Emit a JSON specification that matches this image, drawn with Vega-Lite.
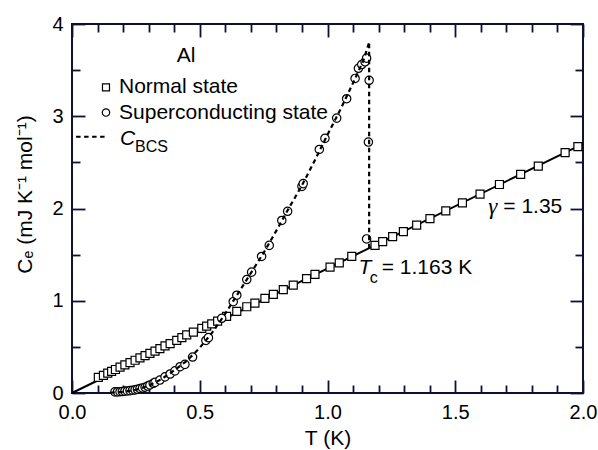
{
  "$schema": "https://vega.github.io/schema/vega-lite/v6.json",
  "width": 511,
  "height": 369,
  "autosize": {"type": "none"},
  "padding": {"left": 72, "top": 24, "right": 15, "bottom": 57},
  "background": "white",
  "config": {
    "view": {"stroke": "#101030", "strokeWidth": 2},
    "axis": {
      "labelFont": "Liberation Sans", "labelFontSize": 20, "labelColor": "black",
      "titleFont": "Liberation Sans", "titleFontSize": 21, "titleFontWeight": "normal", "titleColor": "black",
      "domain": false, "tickColor": "#101030", "tickWidth": 1.8,
      "grid": false, "labelFlush": false, "labelOverlap": false
    }
  },
  "datasets": {
    "normalLine": [{"T": 0, "C": 0}, {"T": 2, "C": 2.7}],
    "normal": [
      {"T": 0.103, "C": 0.17}, {"T": 0.123, "C": 0.19}, {"T": 0.14, "C": 0.215}, {"T": 0.155, "C": 0.235},
      {"T": 0.17, "C": 0.255}, {"T": 0.188, "C": 0.28}, {"T": 0.207, "C": 0.305}, {"T": 0.227, "C": 0.33},
      {"T": 0.247, "C": 0.355}, {"T": 0.266, "C": 0.38}, {"T": 0.286, "C": 0.405}, {"T": 0.305, "C": 0.43},
      {"T": 0.325, "C": 0.455}, {"T": 0.344, "C": 0.48}, {"T": 0.364, "C": 0.51}, {"T": 0.384, "C": 0.535},
      {"T": 0.41, "C": 0.57}, {"T": 0.43, "C": 0.6}, {"T": 0.449, "C": 0.63}, {"T": 0.475, "C": 0.66},
      {"T": 0.508, "C": 0.7}, {"T": 0.527, "C": 0.725}, {"T": 0.547, "C": 0.75}, {"T": 0.57, "C": 0.78},
      {"T": 0.605, "C": 0.83}, {"T": 0.645, "C": 0.885}, {"T": 0.684, "C": 0.935}, {"T": 0.716, "C": 0.975},
      {"T": 0.755, "C": 1.025}, {"T": 0.788, "C": 1.07}, {"T": 0.827, "C": 1.12}, {"T": 0.866, "C": 1.17},
      {"T": 0.918, "C": 1.24}, {"T": 0.951, "C": 1.285}, {"T": 1.01, "C": 1.365}, {"T": 1.046, "C": 1.41},
      {"T": 1.095, "C": 1.48}, {"T": 1.186, "C": 1.6}, {"T": 1.216, "C": 1.64}, {"T": 1.255, "C": 1.695},
      {"T": 1.297, "C": 1.75}, {"T": 1.349, "C": 1.82}, {"T": 1.401, "C": 1.89}, {"T": 1.463, "C": 1.975},
      {"T": 1.528, "C": 2.06}, {"T": 1.597, "C": 2.155}, {"T": 1.673, "C": 2.26}, {"T": 1.756, "C": 2.37},
      {"T": 1.825, "C": 2.46}, {"T": 1.93, "C": 2.605}, {"T": 1.98, "C": 2.67}
    ],
    "superc": [
      {"T": 0.168, "C": 0.012}, {"T": 0.178, "C": 0.012}, {"T": 0.188, "C": 0.014}, {"T": 0.197, "C": 0.016},
      {"T": 0.207, "C": 0.02}, {"T": 0.217, "C": 0.022}, {"T": 0.227, "C": 0.026}, {"T": 0.237, "C": 0.03},
      {"T": 0.247, "C": 0.034}, {"T": 0.256, "C": 0.04}, {"T": 0.266, "C": 0.048}, {"T": 0.276, "C": 0.055},
      {"T": 0.286, "C": 0.063}, {"T": 0.296, "C": 0.075}, {"T": 0.305, "C": 0.087}, {"T": 0.318, "C": 0.105},
      {"T": 0.325, "C": 0.115}, {"T": 0.344, "C": 0.14}, {"T": 0.364, "C": 0.175}, {"T": 0.384, "C": 0.206},
      {"T": 0.403, "C": 0.24}, {"T": 0.423, "C": 0.285}, {"T": 0.442, "C": 0.31}, {"T": 0.472, "C": 0.39},
      {"T": 0.524, "C": 0.57}, {"T": 0.534, "C": 0.6}, {"T": 0.586, "C": 0.81}, {"T": 0.631, "C": 0.99},
      {"T": 0.645, "C": 1.06}, {"T": 0.684, "C": 1.23}, {"T": 0.703, "C": 1.31}, {"T": 0.742, "C": 1.48},
      {"T": 0.772, "C": 1.6}, {"T": 0.821, "C": 1.87}, {"T": 0.844, "C": 1.97}, {"T": 0.9, "C": 2.24},
      {"T": 0.905, "C": 2.27}, {"T": 0.968, "C": 2.64}, {"T": 0.99, "C": 2.76}, {"T": 1.036, "C": 2.98},
      {"T": 1.075, "C": 3.19}, {"T": 1.108, "C": 3.41}, {"T": 1.121, "C": 3.52}, {"T": 1.134, "C": 3.56},
      {"T": 1.147, "C": 3.59}, {"T": 1.153, "C": 3.63}, {"T": 1.163, "C": 3.39}, {"T": 1.16, "C": 2.72},
      {"T": 1.153, "C": 1.67}
    ],
    "bcs": [
      {"g": "curve", "T": 0.15, "C": 0.003}, {"g": "curve", "T": 0.2, "C": 0.012}, {"g": "curve", "T": 0.25, "C": 0.035},
      {"g": "curve", "T": 0.3, "C": 0.08}, {"g": "curve", "T": 0.35, "C": 0.15}, {"g": "curve", "T": 0.4, "C": 0.245},
      {"g": "curve", "T": 0.45, "C": 0.35}, {"g": "curve", "T": 0.5, "C": 0.49}, {"g": "curve", "T": 0.55, "C": 0.66},
      {"g": "curve", "T": 0.6, "C": 0.86}, {"g": "curve", "T": 0.65, "C": 1.08}, {"g": "curve", "T": 0.7, "C": 1.3},
      {"g": "curve", "T": 0.75, "C": 1.52}, {"g": "curve", "T": 0.8, "C": 1.76}, {"g": "curve", "T": 0.85, "C": 2.01},
      {"g": "curve", "T": 0.9, "C": 2.25}, {"g": "curve", "T": 0.95, "C": 2.52}, {"g": "curve", "T": 1.0, "C": 2.8},
      {"g": "curve", "T": 1.05, "C": 3.07}, {"g": "curve", "T": 1.1, "C": 3.36}, {"g": "curve", "T": 1.14, "C": 3.6},
      {"g": "curve", "T": 1.163, "C": 3.8},
      {"g": "jump", "T": 1.163, "C": 3.8}, {"g": "jump", "T": 1.163, "C": 1.57},
      {"g": "legend", "T": 0.016, "C": 2.778}, {"g": "legend", "T": 0.133, "C": 2.778}
    ],
    "legSquare": [{"T": 0.133, "C": 3.314}],
    "legCircle": [{"T": 0.133, "C": 3.04}],
    "sans": [
      {"T": 0.41, "C": 3.65, "t": "Al"},
      {"T": 0.184, "C": 3.317, "t": "Normal state"},
      {"T": 0.184, "C": 3.04, "t": "Superconducting state"},
      {"T": 1.212, "C": 1.355, "t": "= 1.163 K"},
      {"T": 1.688, "C": 2.02, "t": "= 1.35"}
    ],
    "ital": [{"T": 0.188, "C": 2.75, "t": "C"}, {"T": 1.121, "C": 1.355, "t": "T"}],
    "subs": [{"T": 0.2466, "C": 2.67, "t": "BCS"}, {"T": 1.165, "C": 1.247, "t": "c"}],
    "gam": [{"T": 1.629, "C": 2.02, "t": "γ"}]
  },
  "resolve": {"axis": {"x": "independent", "y": "independent"}},
  "layer": [
    {
      "data": {"name": "normalLine"},
      "mark": {"type": "line", "color": "black", "strokeWidth": 2},
      "encoding": {
        "x": {"field": "T", "type": "quantitative", "scale": {"domain": [0, 2], "nice": false, "zero": false},
          "axis": {"orient": "bottom", "title": "T (K)", "ticks": false,
            "values": [0, 0.5, 1.0, 1.5, 2.0], "labelPadding": 9, "format": ".1f",
            "titleBaseline": "middle", "titleY": 45}},
        "y": {"field": "C", "type": "quantitative", "scale": {"domain": [0, 4], "nice": false, "zero": false},
          "axis": {"orient": "left", "title": "Cₑ (mJ K⁻¹ mol⁻¹)", "ticks": false,
            "values": [0, 1, 2, 3, 4], "format": "d", "labelPadding": 9,
            "titleAngle": -90, "titleAlign": "center", "titleBaseline": "middle", "titleX": -47, "titleY": 170}}
      }
    },
    {
      "data": {"name": "normal"},
      "mark": {"type": "point", "shape": "square", "filled": true, "fill": "white", "stroke": "black", "strokeWidth": 1.2, "size": 64, "opacity": 1},
      "encoding": {
        "x": {"field": "T", "type": "quantitative",
          "axis": {"orient": "bottom", "title": null, "labels": false, "tickSize": -13,
            "values": [0, 0.5, 1.0, 1.5, 2.0]}},
        "y": {"field": "C", "type": "quantitative",
          "axis": {"orient": "left", "title": null, "labels": false, "tickSize": -13,
            "values": [0, 1, 2, 3, 4]}}
      }
    },
    {
      "data": {"name": "superc"},
      "mark": {"type": "point", "shape": "circle", "filled": true, "fill": "white", "stroke": "black", "strokeWidth": 1.2, "size": 70, "opacity": 1},
      "encoding": {
        "x": {"field": "T", "type": "quantitative",
          "axis": {"orient": "bottom", "title": null, "labels": false, "tickSize": -8,
            "values": [0.1, 0.2, 0.3, 0.4, 0.6, 0.7, 0.8, 0.9, 1.1, 1.2, 1.3, 1.4, 1.6, 1.7, 1.8, 1.9]}},
        "y": {"field": "C", "type": "quantitative",
          "axis": {"orient": "left", "title": null, "labels": false, "tickSize": -8,
            "values": [0.5, 1.5, 2.5, 3.5]}}
      }
    },
    {
      "data": {"name": "bcs"},
      "mark": {"type": "line", "color": "black", "strokeWidth": 2.2, "strokeDash": [4.5, 3.5]},
      "encoding": {
        "x": {"field": "T", "type": "quantitative",
          "axis": {"orient": "top", "title": null, "labels": false, "tickSize": -13,
            "values": [0, 0.5, 1.0, 1.5, 2.0]}},
        "y": {"field": "C", "type": "quantitative",
          "axis": {"orient": "right", "title": null, "labels": false, "tickSize": -13,
            "values": [0, 1, 2, 3, 4]}},
        "detail": {"field": "g", "type": "nominal"},
        "order": {"field": "C", "type": "quantitative"}
      }
    },
    {
      "data": {"name": "legSquare"},
      "mark": {"type": "point", "shape": "square", "filled": true, "fill": "white", "stroke": "black", "strokeWidth": 1.2, "size": 49, "opacity": 1},
      "encoding": {
        "x": {"field": "T", "type": "quantitative",
          "axis": {"orient": "top", "title": null, "labels": false, "tickSize": -8,
            "values": [0.1, 0.2, 0.3, 0.4, 0.6, 0.7, 0.8, 0.9, 1.1, 1.2, 1.3, 1.4, 1.6, 1.7, 1.8, 1.9]}},
        "y": {"field": "C", "type": "quantitative",
          "axis": {"orient": "right", "title": null, "labels": false, "tickSize": -8,
            "values": [0.5, 1.5, 2.5, 3.5]}}
      }
    },
    {
      "data": {"name": "legCircle"},
      "mark": {"type": "point", "shape": "circle", "filled": true, "fill": "white", "stroke": "black", "strokeWidth": 1.2, "size": 55, "opacity": 1},
      "encoding": {
        "x": {"field": "T", "type": "quantitative", "axis": null},
        "y": {"field": "C", "type": "quantitative", "axis": null}
      }
    },
    {
      "data": {"name": "sans"},
      "mark": {"type": "text", "font": "Liberation Sans", "fontSize": 21, "align": "left", "baseline": "middle", "color": "black"},
      "encoding": {
        "x": {"field": "T", "type": "quantitative", "axis": null},
        "y": {"field": "C", "type": "quantitative", "axis": null},
        "text": {"field": "t"}
      }
    },
    {
      "data": {"name": "ital"},
      "mark": {"type": "text", "font": "Liberation Sans", "fontSize": 21, "fontStyle": "italic", "align": "left", "baseline": "middle", "color": "black"},
      "encoding": {
        "x": {"field": "T", "type": "quantitative", "axis": null},
        "y": {"field": "C", "type": "quantitative", "axis": null},
        "text": {"field": "t"}
      }
    },
    {
      "data": {"name": "subs"},
      "mark": {"type": "text", "font": "Liberation Sans", "fontSize": 16, "align": "left", "baseline": "middle", "color": "black"},
      "encoding": {
        "x": {"field": "T", "type": "quantitative", "axis": null},
        "y": {"field": "C", "type": "quantitative", "axis": null},
        "text": {"field": "t"}
      }
    },
    {
      "data": {"name": "gam"},
      "mark": {"type": "text", "font": "Liberation Serif", "fontSize": 23, "fontStyle": "italic", "align": "left", "baseline": "middle", "color": "black"},
      "encoding": {
        "x": {"field": "T", "type": "quantitative", "axis": null},
        "y": {"field": "C", "type": "quantitative", "axis": null},
        "text": {"field": "t"}
      }
    }
  ]
}
